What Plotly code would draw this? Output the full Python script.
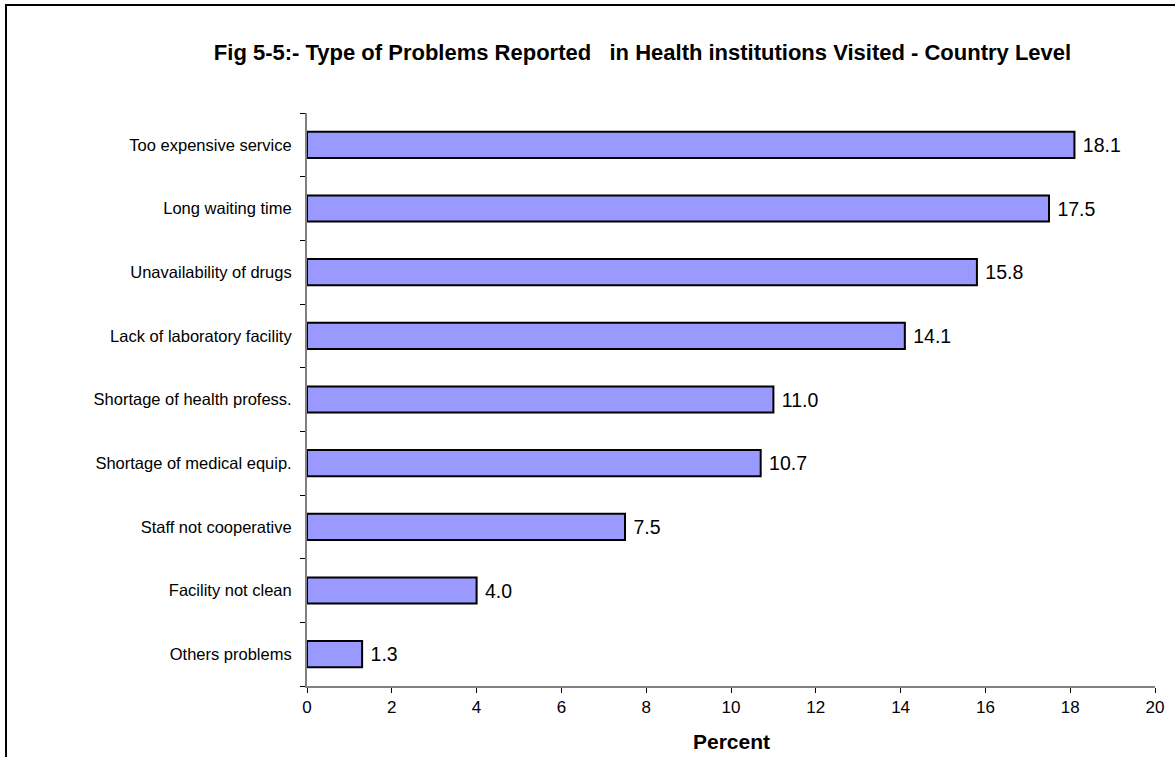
import plotly.graph_objects as go

categories = ["Others problems", "Facility not clean", "Staff not cooperative",
              "Shortage of medical equip.", "Shortage of health profess.",
              "Lack of laboratory facility", "Unavailability of drugs",
              "Long waiting time", "Too expensive service"]
values = [1.3, 4.0, 7.5, 10.7, 11.0, 14.1, 15.8, 17.5, 18.1]
x_ticks = [0, 2, 4, 6, 8, 10, 12, 14, 16, 18, 20]

fig = go.Figure(go.Bar(
    x=values, y=categories, orientation="h",
    marker=dict(color="#9999FF", line=dict(color="black", width=2)),
    width=0.41,
    text=[f"\u00a0{v:.1f}" for v in values], textposition="outside",
    textfont=dict(family="Liberation Sans, Arial", size=19.5, color="black"),
    cliponaxis=False,
))

fig.update_layout(
    width=1175, height=757,
    margin=dict(l=307, r=20, t=113, b=71),
    paper_bgcolor="white", plot_bgcolor="white",
    font=dict(family="Liberation Sans, Arial", color="black"),
    title=dict(text="Fig 5-5:- Type of Problems Reported \u00a0 in Health institutions Visited - Country Level",
               font=dict(size=22, color="black", family="Liberation Sans, Arial", weight="bold"),
               x=642.5 / 1175, xanchor="center", y=1 - 52 / 757, yanchor="middle"),
    showlegend=False,
)
fig.update_xaxes(
    range=[0, 20], tickvals=x_ticks, ticks="outside", ticklen=5, tickcolor="black",
    showline=True, linecolor="#808080", linewidth=2, showgrid=False, zeroline=False,
    tickfont=dict(size=17), automargin=False,
)
fig.update_yaxes(
    range=[-0.5, 8.5], tickson="boundaries", ticks="outside", ticklen=5, tickcolor="black",
    showline=True, linecolor="#808080", linewidth=2, showgrid=False,
    tickfont=dict(size=16.5), ticklabelstandoff=10, automargin=False,
)
fig.add_annotation(text="<b>Percent</b>", xref="paper", yref="paper",
                   x=0.5, y=-(741 - 686) / 573, xanchor="center", yanchor="middle",
                   showarrow=False, font=dict(size=21, color="black"))
fig.add_shape(type="rect", xref="paper", yref="paper",
              x0=(6 - 307) / 848, x1=1.2, y0=-0.3, y1=1 + (113 - 5) / 573,
              line=dict(color="black", width=2), fillcolor="rgba(0,0,0,0)", layer="below")

fig.write_html("out.html", config={"displayModeBar": False},
               post_script="document.body.style.margin='0';document.body.style.overflow='hidden';")
